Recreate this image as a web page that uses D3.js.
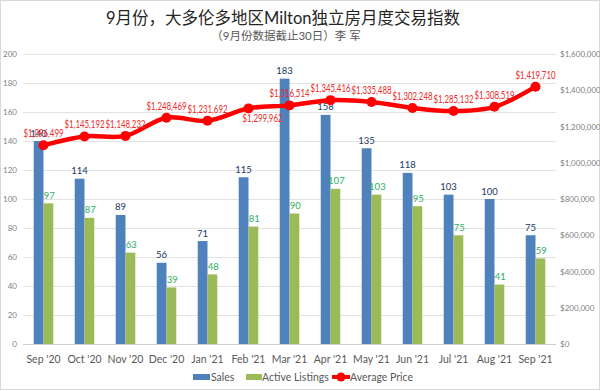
<!DOCTYPE html>
<html><head><meta charset="utf-8">
<script src="https://cdn.jsdelivr.net/npm/d3@7"></script>
<style>body{margin:0;background:#fff}svg{display:block}text{font-family:Lato,"Noto Sans CJK SC",sans-serif}</style>
</head><body>
<script>
const months = ["Sep '20","Oct '20","Nov '20","Dec '20","Jan '21","Feb '21","Mar '21","Apr '21","May '21","Jun '21","Jul '21","Aug '21","Sep '21"];
const sales = [140,114,89,56,71,115,183,158,135,118,103,100,75];
const activeListings = [97,87,63,39,48,81,90,107,103,95,75,41,59];
const avgPrice = [1096499,1145192,1148232,1248469,1231692,1299962,1316514,1345416,1335488,1302248,1285132,1308519,1419710];
const leftTicks = [0,20,40,60,80,100,120,140,160,180,200];
const rightTicks = [0,200000,400000,600000,800000,1000000,1200000,1400000,1600000];
const titleText = "9月份，大多伦多地区Milton独立房月度交易指数";
const subtitleText = "（9月份数据截止30日）李 军";
const seriesNames = ["Sales","Active Listings","Average Price"];

const W=600,H=391;
const svg=d3.select("body").append("svg").attr("width",W).attr("height",H);
svg.append("rect").attr("x",0.5).attr("y",0.5).attr("width",W-1).attr("height",H-2)
  .attr("fill","#fff").attr("stroke","#d9d9d9");

const x0=23,x1=556,yTop=54,yBot=344;
const x=d3.scaleBand().domain(months).range([x0,x1]).paddingInner(0.523).paddingOuter(0.2615);
const xs=d3.scaleBand().domain(["s","a"]).range([0,x.bandwidth()]);
const yL=d3.scaleLinear().domain([0,200]).range([yBot,yTop]);
const yR=d3.scaleLinear().domain([0,1600000]).range([yBot,yTop]);

// grid
svg.append("g").selectAll("line").data(leftTicks).join("line")
  .attr("x1",x0).attr("x2",x1).attr("y1",d=>Math.round(yL(d))+0.5).attr("y2",d=>Math.round(yL(d))+0.5)
  .attr("stroke",d=>d===0?"#d0d0d0":"#e2e2e2").attr("stroke-width",1);

// left axis labels
const axL=d3.axisLeft(yL).tickValues(leftTicks).tickSize(0).tickPadding(0);
svg.append("g").attr("transform",`translate(17,0)`).call(axL)
  .call(g=>g.select(".domain").remove())
  .call(g=>g.selectAll("text").attr("fill","#7f7f7f").attr("font-size",8));
const axR=d3.axisRight(yR).tickValues(rightTicks).tickSize(0).tickPadding(0)
  .tickFormat(d=>"$"+d3.format(",")(d));
svg.append("g").attr("transform",`translate(560,0)`).call(axR)
  .call(g=>g.select(".domain").remove())
  .call(g=>g.selectAll("text").attr("fill","#7f7f7f").attr("font-size",8));

// x labels
const axB=d3.axisBottom(x).tickSize(0).tickPadding(0);
svg.append("g").attr("transform",`translate(0,356)`).call(axB)
  .call(g=>g.select(".domain").remove())
  .call(g=>g.selectAll("text").attr("fill","#595959").attr("font-size",10.5));

// bars
const blue="#4f81bd",green="#9bbb59";
const g=svg.append("g");
g.selectAll(".bs").data(sales).join("rect")
  .attr("x",(d,i)=>x(months[i])+xs("s")).attr("width",xs.bandwidth())
  .attr("y",d=>yL(d)).attr("height",d=>yBot-yL(d)).attr("fill",blue);
g.selectAll(".ba").data(activeListings).join("rect")
  .attr("x",(d,i)=>x(months[i])+xs("a")).attr("width",xs.bandwidth())
  .attr("y",d=>yL(d)).attr("height",d=>yBot-yL(d)).attr("fill",green);
g.selectAll(".ls").data(sales).join("text")
  .attr("x",(d,i)=>x(months[i])+xs("s")+xs.bandwidth()/2).attr("y",d=>yL(d)-4.5)
  .attr("text-anchor","middle").attr("font-size",9.5).attr("fill","#203864").text(d=>d);
g.selectAll(".la").data(activeListings).join("text")
  .attr("x",(d,i)=>x(months[i])+xs("a")+xs.bandwidth()/2+1).attr("y",d=>yL(d)-4.5)
  .attr("text-anchor","middle").attr("font-size",9.5).attr("fill","#2eaf62").text(d=>d);

// line
const cx=(i)=>x(months[i])+x.bandwidth()/2;
const red="#ff0000";
const line=d3.line().x((d,i)=>cx(i)).y(d=>yR(d)).curve(d3.curveCatmullRom.alpha(0.5));
svg.append("path").datum(avgPrice).attr("d",line).attr("fill","none")
  .attr("stroke",red).attr("stroke-width",4.5).attr("stroke-linejoin","round");
svg.append("g").selectAll("circle").data(avgPrice).join("circle")
  .attr("cx",(d,i)=>cx(i)).attr("cy",d=>yR(d)).attr("r",5).attr("fill",red);
svg.append("g").selectAll("text").data(avgPrice).join("text")
  .attr("x",(d,i)=>cx(i)+(i===5?14:0)-20).attr("y",(d,i)=>yR(d)+(i===5?13.5:-8))
  .attr("textLength",40).attr("lengthAdjust","spacingAndGlyphs")
  .attr("font-size",11).attr("fill","#ee2a2a")
  .text(d=>"$"+d3.format(",")(d));

// title
svg.append("text").attr("x",283).attr("y",24).attr("text-anchor","middle")
  .attr("font-size",16.5).attr("fill","#262626").text(titleText);
svg.append("text").attr("x",286).attr("y",39.5).attr("text-anchor","middle")
  .attr("font-size",11.5).attr("fill","#595959").text(subtitleText);

// legend
const ly=377;
const leg=svg.append("g");
leg.append("rect").attr("x",193).attr("y",ly-3).attr("width",17).attr("height",6).attr("fill",blue);
leg.append("text").attr("x",211).attr("y",ly+3.5).attr("font-size",10.5).attr("fill","#595959").text(seriesNames[0]);
leg.append("rect").attr("x",246).attr("y",ly-3).attr("width",16).attr("height",6).attr("fill",green);
leg.append("text").attr("x",262).attr("y",ly+3.5).attr("font-size",10.5).attr("fill","#595959").text(seriesNames[1]);
leg.append("line").attr("x1",332).attr("x2",350).attr("y1",ly).attr("y2",ly).attr("stroke",red).attr("stroke-width",4);
leg.append("circle").attr("cx",341).attr("cy",ly).attr("r",4.5).attr("fill",red);
leg.append("text").attr("x",350).attr("y",ly+3.5).attr("font-size",10.5).attr("fill","#595959").text(seriesNames[2]);
</script>
</body></html>
